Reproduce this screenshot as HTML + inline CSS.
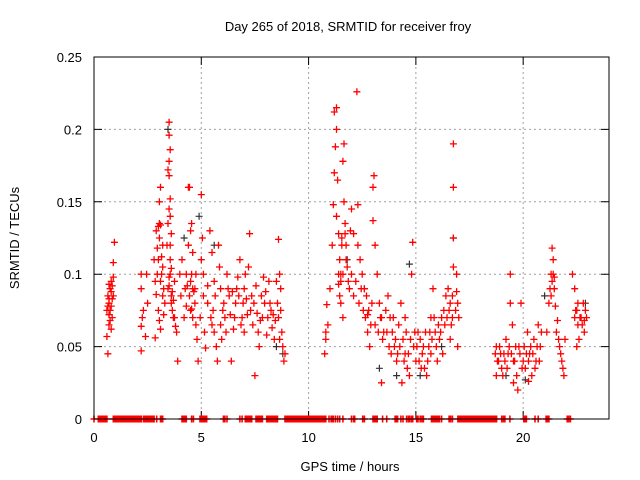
<!DOCTYPE html>
<html><head><meta charset="utf-8"><style>
html,body{margin:0;padding:0;background:#fff;}
svg{display:block;font-family:"Liberation Sans",sans-serif;}
</style></head><body>
<svg id="chart" width="640" height="480" viewBox="0 0 640 480">
<rect x="0" y="0" width="640" height="480" fill="#fff"/>
<text x="348" y="31" font-size="13" text-anchor="middle" fill="#000">Day 265 of 2018, SRMTID for receiver froy</text>
<g id="grid"></g>
<g id="axes"></g>
<g id="zeros"></g>
<g id="black"></g>
<g id="red"></g>
<rect x="94" y="57" width="515" height="362" fill="none" stroke="#000" stroke-width="1"/>
<text x="350" y="471" font-size="13" text-anchor="middle">GPS time / hours</text>
<text x="0" y="0" font-size="13" text-anchor="middle" transform="translate(19,238) rotate(-90)">SRMTID / TECUs</text>
</svg>
<script>
const xTicks=[0,5,10,15,20];
const xTickLabels=["0","5","10","15","20"];
const yTicks=[0,0.05,0.1,0.15,0.2,0.25];
const yTickLabels=["0","0.05","0.1","0.15","0.2","0.25"];
const redHours=[0.6,0.65,0.6,0.7,0.7,0.75,0.8,0.8,0.85,0.85,0.9,0.9,0.95,0.75,0.65,0.8,0.9,0.7,
2.2,2.2,2.25,2.3,2.2,2.2,2.5,2.45,2.4,
2.8,2.85,2.9,2.95,3.0,3.05,3.1,2.9,3.2,3.2,3.25,3.0,3.1,2.85,3.3,3.15,3.05,
3.5,3.5,3.55,3.5,3.45,3.5,3.55,3.5,3.55,3.45,3.6,3.4,3.55,3.6,3.5,3.45,3.6,3.65,3.7,3.8,3.85,3.9,3.75,4.0,4.1,4.05,4.2,4.3,4.25,
4.4,4.45,4.5,4.55,4.4,4.6,4.6,4.65,4.5,4.7,4.75,4.8,4.55,4.85,5.0,5.05,5.0,5.1,5.1,4.95,5.15,5.2,
5.4,5.5,5.6,5.3,5.5,5.6,5.7,5.75,5.8,5.85,5.9,6.0,6.1,6.2,6.3,6.4,6.5,6.6,6.7,6.8,6.9,7.0,7.0,7.1,7.2,7.3,7.4,7.5,7.55,7.6,7.7,7.8,7.9,8.0,8.1,8.2,8.3,8.4,8.5,8.6,8.65,8.7,8.7,8.75,8.8,8.85,8.9,6.45,7.25,5.95,
10.75,10.8,10.85,10.9,10.8,11.0,11.1,11.15,11.2,11.25,11.3,11.2,11.3,11.35,11.3,11.4,11.45,11.5,11.4,11.5,11.6,11.55,11.65,11.7,11.75,11.6,11.65,11.8,11.9,11.95,12.0,12.1,12.25,12.3,12.3,12.4,12.5,12.6,12.7,12.8,12.9,12.85,13.0,13.05,13.0,13.1,13.2,13.3,13.4,13.5,12.75,
13.6,13.7,13.8,13.9,14.0,14.1,14.2,14.3,14.4,14.5,14.6,14.7,14.5,14.8,14.85,14.9,15.0,15.1,15.2,15.3,15.4,15.5,15.6,15.7,15.8,15.9,16.0,16.1,16.2,16.3,16.4,16.5,16.6,16.7,16.75,16.75,16.75,16.75,16.9,16.9,17.0,16.95,16.6,15.45,15.7,13.4,14.35,16.25,
18.7,18.75,18.8,18.9,19.0,19.1,19.2,19.3,19.4,19.4,19.5,19.6,19.7,19.8,19.9,20.0,20.1,20.2,20.3,20.4,20.5,20.6,20.7,20.8,19.75,19.55,20.25,
21.1,21.2,21.3,21.35,21.4,21.45,21.5,21.6,21.7,21.8,21.85,21.9,21.95,22.3,22.4,22.5,22.55,22.6,22.7,22.8,22.85,22.9,22.4,22.5];
const redValues=[0.057,0.045,0.075,0.072,0.08,0.09,0.095,0.078,0.083,0.07,0.108,0.098,0.122,0.068,0.085,0.062,0.085,0.093,
0.1,0.09,0.07,0.075,0.064,0.047,0.08,0.1,0.057,
0.11,0.095,0.086,0.1,0.133,0.15,0.16,0.13,0.12,0.105,0.09,0.075,0.062,0.056,0.08,0.112,0.068,
0.205,0.196,0.186,0.178,0.172,0.168,0.152,0.145,0.14,0.135,0.128,0.12,0.11,0.104,0.098,0.09,0.085,0.075,0.07,0.064,0.06,0.04,0.095,0.1,0.11,0.085,0.07,0.078,0.09,
0.16,0.16,0.13,0.135,0.12,0.115,0.09,0.088,0.075,0.08,0.065,0.055,0.1,0.04,0.155,0.125,0.11,0.1,0.085,0.07,0.06,0.049,
0.13,0.115,0.095,0.08,0.065,0.06,0.05,0.04,0.12,0.105,0.09,0.075,0.07,0.1,0.085,0.04,0.062,0.08,0.098,0.11,0.07,0.09,0.06,0.083,0.105,0.075,0.065,0.03,0.092,0.073,0.05,0.085,0.098,0.088,0.07,0.08,0.063,0.055,0.095,0.124,0.1,0.09,0.075,0.06,0.05,0.04,0.045,0.088,0.128,0.055,
0.045,0.06,0.079,0.065,0.055,0.09,0.12,0.148,0.17,0.188,0.2,0.212,0.215,0.165,0.14,0.128,0.11,0.1,0.093,0.08,0.07,0.125,0.15,0.135,0.12,0.178,0.19,0.105,0.09,0.13,0.145,0.128,0.226,0.148,0.12,0.11,0.1,0.09,0.085,0.075,0.065,0.05,0.16,0.168,0.137,0.12,0.1,0.08,0.07,0.06,0.06,
0.075,0.085,0.07,0.06,0.05,0.04,0.065,0.08,0.055,0.045,0.035,0.03,0.07,0.1,0.122,0.05,0.04,0.06,0.055,0.045,0.035,0.03,0.05,0.07,0.09,0.06,0.04,0.055,0.07,0.075,0.085,0.09,0.08,0.07,0.19,0.16,0.125,0.105,0.1,0.088,0.07,0.05,0.055,0.06,0.045,0.025,0.025,0.045,
0.045,0.03,0.04,0.05,0.035,0.045,0.055,0.045,0.1,0.08,0.065,0.04,0.03,0.05,0.08,0.04,0.035,0.06,0.045,0.03,0.055,0.04,0.065,0.05,0.02,0.025,0.026,
0.06,0.08,0.1,0.118,0.11,0.09,0.078,0.068,0.05,0.04,0.035,0.03,0.055,0.1,0.09,0.075,0.065,0.055,0.07,0.08,0.06,0.075,0.07,0.05];
const redHours2=[0.7,0.75,0.8,0.85,0.7,0.65,
3.0,3.05,3.1,3.2,3.25,3.15,2.95,3.05,3.1,
3.55,3.5,3.6,3.65,3.7,3.55,3.75,
4.3,4.35,4.45,4.5,4.6,4.55,4.7,4.75,
5.3,5.45,5.55,5.65,5.9,6.05,6.15,6.25,6.35,6.55,6.65,6.75,6.85,6.95,7.05,7.15,7.35,7.45,7.65,7.75,7.85,7.95,8.05,8.15,8.25,8.35,8.45,8.55,8.6,8.65,
11.4,11.5,11.6,11.45,11.55,11.7,11.75,11.85,12.0,12.1,12.2,12.35,12.45,12.55,12.65,12.75,12.95,13.1,13.25,13.35,13.45,
13.65,13.75,13.85,13.95,14.05,14.15,14.25,14.45,14.55,14.65,14.75,14.95,15.05,15.15,15.25,15.35,15.55,15.65,15.75,15.85,15.95,16.05,16.15,16.35,16.45,16.55,16.65,16.7,16.85,16.95,
18.75,18.85,18.95,19.05,19.15,19.25,19.35,19.45,19.55,19.65,19.85,19.95,20.05,20.15,20.25,20.35,20.45,20.55,20.65,20.75,20.85,
21.25,21.3,21.35,21.4,21.45,21.55,21.65,21.75,22.45,22.55,22.65,22.75,22.85,22.95];
const redValues2=[0.083,0.075,0.088,0.092,0.065,0.078,
0.11,0.125,0.095,0.085,0.072,0.1,0.118,0.135,0.134,
0.1,0.092,0.08,0.088,0.082,0.12,0.07,
0.1,0.092,0.085,0.095,0.07,0.076,0.09,0.1,
0.092,0.07,0.075,0.085,0.065,0.08,0.06,0.09,0.072,0.07,0.09,0.085,0.065,0.08,0.1,0.072,0.085,0.08,0.06,0.068,0.07,0.08,0.058,0.095,0.075,0.072,0.068,0.08,0.07,0.055,
0.1,0.095,0.1,0.085,0.12,0.128,0.11,0.095,0.1,0.085,0.095,0.08,0.09,0.075,0.07,0.072,0.08,0.065,0.06,0.07,0.055,
0.06,0.05,0.045,0.07,0.055,0.045,0.05,0.04,0.06,0.045,0.055,0.06,0.05,0.04,0.035,0.05,0.04,0.06,0.055,0.07,0.05,0.065,0.06,0.065,0.07,0.075,0.065,0.085,0.075,0.08,
0.05,0.04,0.045,0.03,0.04,0.035,0.05,0.045,0.04,0.05,0.045,0.035,0.05,0.045,0.04,0.05,0.045,0.035,0.05,0.04,0.06,
0.09,0.085,0.095,0.1,0.098,0.06,0.055,0.045,0.075,0.08,0.07,0.065,0.068,0.07];
const blackHours=[3.45,4.2,4.9,5.6,8.5,8.8,11.8,12.6,13.3,14.1,14.7,15.2,16.2,16.75,19.2,20.1,21.0,22.9];
const blackValues=[0.2,0.125,0.14,0.12,0.05,0.045,0.11,0.09,0.035,0.03,0.107,0.03,0.05,0.125,0.03,0.027,0.085,0.08];
const zeroHours=[0,0.2,0.25,0.3,0.35,0.4,0.45,0.5,0.55,0.6,0.9,0.95,1.0,1.05,1.1,1.15,1.2,1.25,1.3,1.35,1.4,1.45,1.5,1.55,1.6,1.65,1.7,1.75,1.8,1.85,1.9,1.95,2.0,2.05,2.1,2.15,2.2,2.3,2.35,2.4,2.45,2.5,2.55,2.6,2.65,2.7,2.75,2.8,2.92,3.1,3.15,3.2,4.1,4.15,4.2,4.25,4.3,4.55,4.63,4.94,5.0,5.05,5.1,5.15,5.2,5.25,6.03,6.1,6.2,6.8,6.9,7.05,7.1,7.15,7.2,7.25,7.3,7.35,7.55,7.6,7.65,7.7,7.75,7.8,7.85,8.05,8.1,8.15,8.2,8.25,8.3,8.35,8.4,8.45,8.5,8.55,8.9,8.95,9.0,9.05,9.1,9.15,9.2,9.25,9.3,9.35,9.4,9.45,9.5,9.55,9.6,9.65,9.7,9.75,9.8,9.85,9.9,9.95,10.0,10.05,10.1,10.15,10.2,10.25,10.3,10.35,10.4,10.45,10.5,10.55,10.6,10.65,10.7,10.75,10.8,10.95,11.05,11.1,11.15,11.25,11.35,11.45,11.6,12.0,12.1,12.15,12.52,12.6,13.0,13.05,13.1,13.15,13.2,13.45,13.64,14.03,14.1,14.15,14.3,14.4,14.57,14.65,14.7,14.78,14.85,15.04,15.1,15.2,15.28,15.35,15.73,15.8,15.85,15.92,15.97,16.03,16.1,16.2,16.55,16.62,16.7,16.96,17.01,17.06,17.11,17.16,17.21,17.26,17.31,17.36,17.41,17.46,17.51,17.56,17.61,17.66,17.71,17.76,17.81,17.86,17.91,17.96,18.01,18.06,18.11,18.16,18.21,18.26,18.31,18.36,18.41,18.46,18.51,18.56,18.61,18.66,18.71,18.76,19.0,19.08,19.15,19.38,20.03,20.1,20.15,20.55,20.7,21.07,21.13,21.2,22.05,22.12,22.2];
const zeroValues=[0,0,0,0,0,0,0,0,0,0,0,0,0,0,0,0,0,0,0,0,0,0,0,0,0,0,0,0,0,0,0,0,0,0,0,0,0,0,0,0,0,0,0,0,0,0,0,0,0,0,0,0,0,0,0,0,0,0,0,0,0,0,0,0,0,0,0,0,0,0,0,0,0,0,0,0,0,0,0,0,0,0,0,0,0,0,0,0,0,0,0,0,0,0,0,0,0,0,0,0,0,0,0,0,0,0,0,0,0,0,0,0,0,0,0,0,0,0,0,0,0,0,0,0,0,0,0,0,0,0,0,0,0,0,0,0,0,0,0,0,0,0,0,0,0,0,0,0,0,0,0,0,0,0,0,0,0,0,0,0,0,0,0,0,0,0,0,0,0,0,0,0,0,0,0,0,0,0,0,0,0,0,0,0,0,0,0,0,0,0,0,0,0,0,0,0,0,0,0,0,0,0,0,0,0,0,0,0,0,0,0,0,0,0,0,0,0,0,0,0,0,0,0,0,0,0,0,0,0,0,0,0,0,0,0,0,0,0,0,0,0,0,0,0,0,0];

const X0=94,X1=609,Y0=419,Y1=57,XMAX=24,YMAX=0.25;
function sx(h){return X0+(h/XMAX)*(X1-X0);}
function sy(v){return Y0-(v/YMAX)*(Y0-Y1);}
const NS="http://www.w3.org/2000/svg";
function mk(tag,parent,attrs){const e=document.createElementNS(NS,tag);for(const k in attrs)e.setAttribute(k,attrs[k]);parent.appendChild(e);return e;}
const grid=document.getElementById('grid'),axes=document.getElementById('axes');
yTicks.forEach((t,i)=>{
  const y=sy(t);
  if(t>0&&t<YMAX){const g=mk('line',grid,{x1:X0,x2:X1,y1:y,y2:y,stroke:'#a0a0a0','stroke-dasharray':'2,3'});
  
  }
  const tk=mk('path',axes,{d:`M${X0} ${y}h8M${X1} ${y}h-8`,stroke:'#000'});
  
  
  const l=mk('text',axes,{x:82,y:y+5,'font-size':13,'text-anchor':'end'});
  l.textContent=yTickLabels[i];
  
  
});
xTicks.forEach((t,i)=>{
  const x=sx(t);
  if(t>0){const g=mk('line',grid,{x1:x,x2:x,y1:Y1,y2:Y0,stroke:'#a0a0a0','stroke-dasharray':'2,3'});
  
  }
  const tk=mk('path',axes,{d:`M${x} ${Y0}v-8M${x} ${Y1}v8`,stroke:'#000'});
  
  
  const l=mk('text',axes,{x:x,y:442,'font-size':13,'text-anchor':'middle'});
  l.textContent=xTickLabels[i];
  
  
});
function plot(gid,hs,vs,color,name,w){
  const g=document.getElementById(gid);let d='';
  hs.forEach((h,i)=>{const x=sx(h),y=sy(vs[i]);d+=`M${(x-3.5).toFixed(1)} ${y.toFixed(1)}h7M${x.toFixed(1)} ${(y-3.5).toFixed(1)}v7`;});
  const p=mk('path',g,{d:d,stroke:color,'stroke-width':w,fill:'none'});
  
  
}
plot('black',blackHours,blackValues,'#333','black-points',1.2);
plot('red',redHours,redValues,'#ff0000','red-points',1.3);
plot('red',redHours2,redValues2,'#ff0000','red-points-extra',1.3);
plot('zeros',zeroHours,zeroValues,'#ff0000','zero-points',1.6);
</script>
</body></html>
